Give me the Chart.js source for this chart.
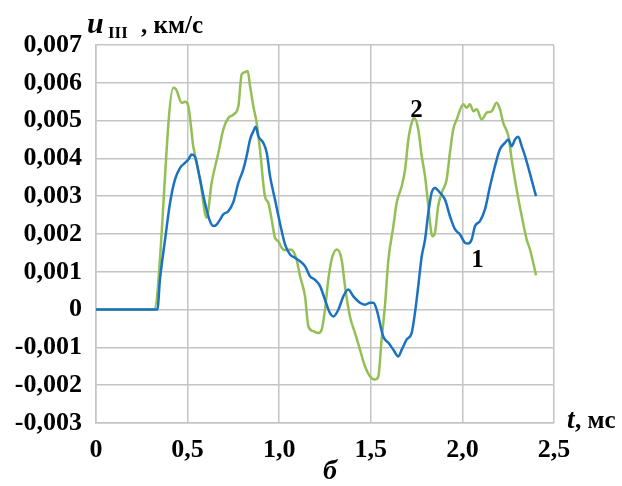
<!DOCTYPE html>
<html>
<head>
<meta charset="utf-8">
<script src="https://cdn.jsdelivr.net/npm/chart.js@4"></script>
<style>
  body { margin: 0; background: #fff; }
  #wrap { position: relative; width: 622px; height: 486px; }
</style>
</head>
<body>
<div id="wrap"><canvas id="chart" width="622" height="486"></canvas></div>
<script>
// curve 1 (blue)
const t1 = [0, 0.335, 0.349, 0.377, 0.404, 0.431, 0.459, 0.486, 0.504, 0.522, 0.540, 0.568, 0.595, 0.622, 0.640, 0.659, 0.677, 0.695, 0.722,
  0.750, 0.777, 0.804, 0.822, 0.841, 0.859, 0.872, 0.886, 0.913, 0.932, 0.950, 0.977, 1.004, 1.032, 1.059, 1.086, 1.114, 1.141,
  1.168, 1.195, 1.223, 1.250, 1.277, 1.296, 1.323, 1.350, 1.377, 1.405, 1.441, 1.468, 1.496, 1.514, 1.532,
  1.568, 1.596, 1.623, 1.650, 1.669, 1.696, 1.723, 1.741, 1.759, 1.778, 1.796, 1.814, 1.832, 1.850, 1.878, 1.905, 1.932,
  1.960, 1.987, 2.014, 2.032, 2.050, 2.069, 2.096, 2.123, 2.151, 2.178, 2.205, 2.232, 2.251, 2.269, 2.287, 2.305, 2.324, 2.342, 2.402];
const u1 = [0, 0, 0.79, 1.85, 2.82, 3.44, 3.75, 3.88, 3.97, 4.10, 4.05, 3.44, 2.82, 2.34, 2.21, 2.25, 2.38, 2.52, 2.60,
  2.85, 3.35, 3.71, 4.06, 4.50, 4.72, 4.84, 4.59, 4.41, 4.15, 3.53, 2.91, 2.29, 1.72, 1.46, 1.37, 1.28, 1.15,
  0.88, 0.79, 0.62, 0.26, -0.09, -0.18, 0, 0.35, 0.53, 0.35, 0.18, 0.13, 0.18, 0.18, 0,
  -0.71, -0.88, -1.06, -1.24, -1.06, -0.79, -0.62, -0.09, 0.62, 1.41, 1.85, 2.56, 3.09, 3.22, 3.09, 2.91, 2.47,
  2.12, 1.99, 1.77, 1.75, 1.85, 2.21, 2.34, 2.65, 3.27, 3.80, 4.24, 4.41, 4.50, 4.32, 4.50, 4.57, 4.32, 4.06, 3.00];

// curve 2 (green)
const t2 = [0, 0.317, 0.422, 0.437, 0.468, 0.486, 0.504, 0.531, 0.568, 0.604, 0.631, 0.668, 0.695, 0.722,
  0.750, 0.777, 0.795, 0.813, 0.828, 0.841, 0.859, 0.877, 0.895, 0.922, 0.941, 0.959, 0.977, 0.995, 1.014, 1.032, 1.059, 1.077, 1.095, 1.114, 1.141,
  1.159, 1.186, 1.214, 1.232, 1.250, 1.268, 1.286, 1.314, 1.341, 1.359, 1.386, 1.414, 1.441, 1.468, 1.496, 1.523,
  1.541, 1.559, 1.577, 1.596, 1.623, 1.641, 1.669, 1.687, 1.705, 1.723, 1.737, 1.759, 1.778, 1.796, 1.814, 1.836, 1.850, 1.868, 1.887, 1.914, 1.932, 1.950,
  1.969, 2.005, 2.023, 2.041, 2.060, 2.078, 2.105, 2.133, 2.160, 2.187, 2.205, 2.223, 2.251, 2.269, 2.296, 2.324, 2.351, 2.369, 2.402];
const u2 = [0, 0, 5.87, 5.83, 5.47, 5.50, 5.38, 4.32, 3.44, 2.43, 3.35, 4.15, 4.77, 5.07,
  5.16, 5.38, 6.22, 6.28, 6.31, 5.91, 5.38, 4.94, 4.24, 3.00, 2.82, 2.38, 1.90, 1.81, 1.63, 1.57, 1.59, 1.54, 1.32, 0.88, 0.35,
  -0.44, -0.57, -0.62, -0.53, 0, 0.79, 1.32, 1.59, 1.32, 0.62, -0.18, -0.62, -1.06, -1.50, -1.77, -1.85,
  -1.77, -0.79, 0.09, 1.32, 2.20, 2.82, 3.27, 3.70, 4.50, 4.94, 5.07, 4.77, 4.06, 3.53, 2.74, 1.94, 2.03, 2.74, 3.09, 3.44, 4.15, 4.77,
  5.03, 5.43, 5.34, 5.43, 5.25, 5.30, 5.03, 5.21, 5.25, 5.47, 5.30, 4.94, 4.59, 3.97, 3.18, 2.47, 1.85, 1.59, 0.91];

const xTickLabels = ['0', '0,5', '1,0', '1,5', '2,0', '2,5'];
const yTickLabels = ['-0,003', '-0,002', '-0,001', '0', '0,001', '0,002', '0,003', '0,004', '0,005', '0,006', '0,007'];

// curve numbers placed in data coordinates
const curveLabels = [
  { text: '1', t: 2.082, u: 0.00112 },
  { text: '2', t: 1.75, u: 0.0051 }
];

const serif = '"Liberation Serif", "Times New Roman", serif';
const gridColor = '#c4c4c4';

const toPoints = (ts, us) => ts.map((t, i) => ({ x: t, y: us[i] / 1000 }));

const textPlugin = {
  id: 'texts',
  afterDraw(chart) {
    const ctx = chart.ctx;
    const xs = chart.scales.x, ys = chart.scales.y;
    ctx.save();
    ctx.fillStyle = '#000';
    ctx.textBaseline = 'alphabetic';

    // axis title u_III , км/с
    ctx.textAlign = 'left';
    ctx.font = 'italic bold 30px ' + serif;
    ctx.fillText('u', 87, 33);
    ctx.font = 'bold 17px ' + serif;
    ctx.fillText('III', 108, 38);
    ctx.font = 'bold 25px ' + serif;
    ctx.fillText(', км/с', 141, 33);

    // t, мс
    ctx.font = 'italic bold 27px ' + serif;
    ctx.fillText('t', 567, 428);
    ctx.font = 'bold 25px ' + serif;
    ctx.fillText(', мс', 575, 428);

    // б
    ctx.textAlign = 'center';
    ctx.font = 'italic bold 28px ' + serif;
    ctx.fillText('б', 330, 479);

    ctx.font = 'bold 25px ' + serif;
    curveLabels.forEach(l => {
      ctx.fillText(l.text, xs.getPixelForValue(l.t), ys.getPixelForValue(l.u));
    });
    ctx.restore();
  }
};

new Chart(document.getElementById('chart'), {
  type: 'line',
  data: {
    datasets: [
      {
        label: '1',
        data: toPoints(t1, u1),
        borderColor: '#1a72c0',
        borderWidth: 2.5,
        pointRadius: 0,
        cubicInterpolationMode: 'monotone'
      },
      {
        label: '2',
        data: toPoints(t2, u2),
        borderColor: '#93bf55',
        borderWidth: 2.5,
        pointRadius: 0,
        cubicInterpolationMode: 'monotone'
      }
    ]
  },
  options: {
    responsive: false,
    animation: false,
    layout: { padding: { top: 45, right: 68, left: 0, bottom: 0 } },
    plugins: { legend: { display: false }, tooltip: { enabled: false } },
    scales: {
      x: {
        type: 'linear',
        min: 0,
        max: 2.5,
        afterFit: s => { s.height = 63; },
        afterBuildTicks: s => { s.ticks = xTickLabels.map((_, i) => ({ value: i * 0.5 })); },
        ticks: {
          padding: 12,
          color: '#000',
          font: { family: serif, size: 26, weight: 'bold' },
          maxRotation: 0,
          callback: (v, i) => xTickLabels[i]
        },
        grid: { color: gridColor, lineWidth: 1.5, drawTicks: false },
        border: { color: gridColor, width: 1.5 }
      },
      y: {
        min: -0.003,
        max: 0.007,
        afterFit: s => { s.width = 96; },
        afterBuildTicks: s => { s.ticks = yTickLabels.map((_, i) => ({ value: (i - 3) / 1000 })); },
        ticks: {
          padding: 14,
          color: '#000',
          font: { family: serif, size: 26, weight: 'bold' },
          callback: (v, i) => yTickLabels[i]
        },
        grid: { color: gridColor, lineWidth: 1.5, drawTicks: false },
        border: { color: gridColor, width: 1.5 }
      }
    }
  },
  plugins: [textPlugin]
});
</script>
</body>
</html>
